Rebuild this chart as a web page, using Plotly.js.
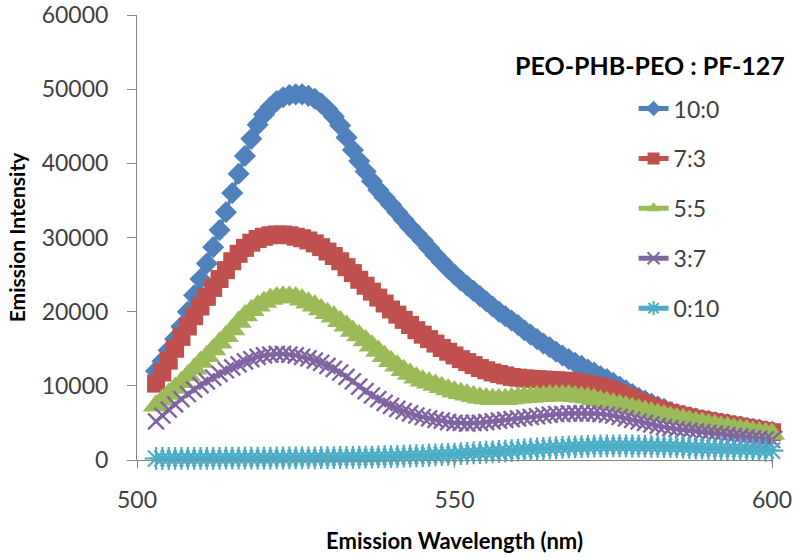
<!DOCTYPE html>
<html>
<head>
<meta charset="utf-8">
<script src="https://cdn.plot.ly/plotly-3.0.1.min.js"></script>
<style>
html,body{margin:0;padding:0;background:#fff;}
#chart{width:800px;height:560px;}
</style>
</head>
<body>
<div id="chart"></div>
<script>
// Emission wavelength (nm), one reading per nm
const wavelength = [];
for (let w = 503; w <= 600; w++) wavelength.push(w);

const seriesNames = ["10:0", "7:3", "5:5", "3:7", "0:10"];

const ratio10_0 = [
12000,13300,14800,16300,18000,20000,22200,24400,26500,28700,
31000,33400,36000,38600,41000,43300,45200,46600,47600,48400,
48900,49200,49300,49300,49100,48700,48100,47300,46300,45100,
43500,41800,40300,38900,37600,36400,35400,34400,33400,32400,
31400,30500,29600,28600,27600,26700,25800,25000,24200,23500,
22800,22100,21400,20700,20000,19400,18800,18200,17500,16900,
16300,15700,15200,14600,14100,13600,13100,12700,12200,11800,
11300,10900,10400,9900,9400,8900,8400,8000,7600,7200,
6900,6500,6200,6000,5800,5600,5400,5300,5100,4900,
4800,4600,4500,4300,4200,4100,3900,3800];

const ratio7_3 = [
10300,11800,13400,15000,16600,18000,19400,20700,22000,23200,
24400,25600,26800,27800,28600,29300,29800,30100,30300,30400,
30400,30300,30100,29900,29600,29200,28700,28100,27500,26800,
26000,25200,24300,23500,22700,21900,21100,20300,19600,18900,
18200,17500,16900,16300,15700,15100,14600,14100,13600,13200,
12800,12400,12100,11800,11600,11400,11200,11100,11000,10950,
10900,10850,10800,10750,10700,10650,10550,10400,10250,10050,
9850,9650,9300,8950,8600,8250,7850,7500,7200,6900,
6600,6350,6150,5950,5750,5550,5400,5250,5100,4950,
4800,4650,4500,4350,4200,4050,3900,3750];

const ratio5_5 = [
7300,8100,8900,9700,10500,11400,12300,13200,14000,14900,
15800,16700,17600,18600,19500,20200,20800,21300,21700,21900,
22000,22000,21900,21600,21200,20800,20300,19800,19300,18700,
18100,17400,16800,16100,15400,14700,14000,13300,12700,12100,
11600,11100,10700,10400,10100,9800,9500,9200,9000,8800,
8600,8400,8300,8200,8200,8200,8300,8400,8500,8500,
8600,8600,8700,8700,8700,8700,8600,8500,8400,8200,
8000,7800,7600,7400,7200,7000,6800,6600,6400,6200,
6000,5800,5600,5500,5300,5100,5000,4800,4700,4500,
4400,4200,4100,4000,3800,3700,3600,3500];

const ratio3_7 = [
5200,6000,6800,7500,8200,8900,9500,10100,10600,11100,
11600,12100,12500,12900,13300,13600,13900,14100,14200,14300,
14300,14200,14100,13900,13700,13400,13100,12700,12300,11800,
11200,10600,9900,9300,8700,8200,7700,7300,6900,6600,
6300,6000,5800,5600,5400,5300,5100,5000,5000,4900,
5000,5000,5100,5200,5300,5400,5500,5600,5700,5800,
5900,6000,6100,6200,6200,6300,6300,6300,6300,6300,
6200,6100,6000,5800,5600,5400,5200,5000,4800,4600,
4450,4300,4150,4050,3950,3850,3750,3650,3550,3450,
3350,3250,3150,3050,2950,2850,2780,2700];

const ratio0_10 = [
200,200,200,210,210,220,220,220,230,230,
230,240,240,240,250,250,250,260,260,270,
270,280,280,290,300,300,310,320,330,340,
350,360,370,390,400,420,440,460,480,510,
540,570,600,640,680,720,760,800,850,900,
950,1000,1050,1100,1150,1210,1270,1330,1390,1450,
1500,1550,1600,1650,1700,1740,1780,1810,1840,1860,
1890,1900,1900,1900,1900,1890,1880,1870,1850,1830,
1810,1790,1760,1720,1680,1640,1600,1570,1550,1530,
1510,1490,1470,1440,1400,1360,1310,1260];

const xTickVals = [500, 550, 600];
const yTickVals = [0, 10000, 20000, 30000, 40000, 50000, 60000];
const legendTitle = "PEO-PHB-PEO : PF-127";
const xTitle = "Emission Wavelength (nm)";
const yTitle = "Emission Intensity";

const values = [ratio10_0, ratio7_3, ratio5_5, ratio3_7, ratio0_10];
const colors = ["#4F81BD", "#C0504D", "#9BBB59", "#8064A2", "#4BACC6"];
const symbols = ["diamond", "square", "triangle-up", "x-thin-open", "asterisk-open"];
const sizes = [17, 18, 23, 16, 19];
const outline = [0, 0, 0, 2.4, 2.2];

const FONT = "Lato, 'Open Sans', 'DejaVu Sans', sans-serif";

const traces = values.map((v, i) => ({
  type: "scatter",
  mode: "lines+markers",
  x: wavelength,
  y: v,
  name: seriesNames[i],
  legendgroup: "g" + i,
  cliponaxis: false,
  line: {color: colors[i], width: 3.5},
  marker: {
    symbol: symbols[i],
    size: sizes[i],
    color: colors[i],
    line: {color: colors[i], width: outline[i]}
  }
}));

const layout = {
  width: 800,
  height: 560,
  margin: {l: 137, r: 28, t: 15, b: 100},
  paper_bgcolor: "#ffffff",
  plot_bgcolor: "#ffffff",
  font: {family: FONT, color: "#404040"},
  showlegend: true,
  legend: {
    x: 0.782, y: 0.838, xanchor: "left", yanchor: "top",
    font: {family: FONT, size: 23, color: "#404040"},
    tracegroupgap: 17,
    traceorder: "grouped",
    itemsizing: "constant",
    bgcolor: "rgba(0,0,0,0)"
  },
  xaxis: {
    range: [500, 600],
    tickvals: xTickVals,
    tickformat: "d",
    showgrid: false, zeroline: false,
    showline: true, linecolor: "#868686", linewidth: 1,
    ticks: "outside", ticklen: 7, tickcolor: "#868686",
    tickfont: {family: FONT, size: 23, color: "#404040"},
    ticklabelstandoff: 12,
    title: {text: "<b>" + xTitle + "</b>", font: {family: FONT, size: 22, color: "#000"}, standoff: 22}
  },
  yaxis: {
    range: [0, 60000],
    tickvals: yTickVals,
    tickformat: "d",
    showgrid: false, zeroline: false,
    showline: true, linecolor: "#868686", linewidth: 1,
    ticks: "outside", ticklen: 9, tickcolor: "#868686",
    tickfont: {family: FONT, size: 23, color: "#404040"},
    ticklabelstandoff: 14,
    title: {text: "<b>" + yTitle + "</b>", font: {family: FONT, size: 21, color: "#000"}, standoff: 10}
  },
  annotations: [{
    text: "<b>" + legendTitle + "</b>",
    xref: "paper", yref: "paper",
    x: 0.808, y: 0.888, xanchor: "center", yanchor: "middle",
    showarrow: false,
    font: {family: FONT, size: 25, color: "#000"}
  }]
};

Plotly.newPlot("chart", traces, layout, {staticPlot: true, displayModeBar: false});
</script>
</body>
</html>
